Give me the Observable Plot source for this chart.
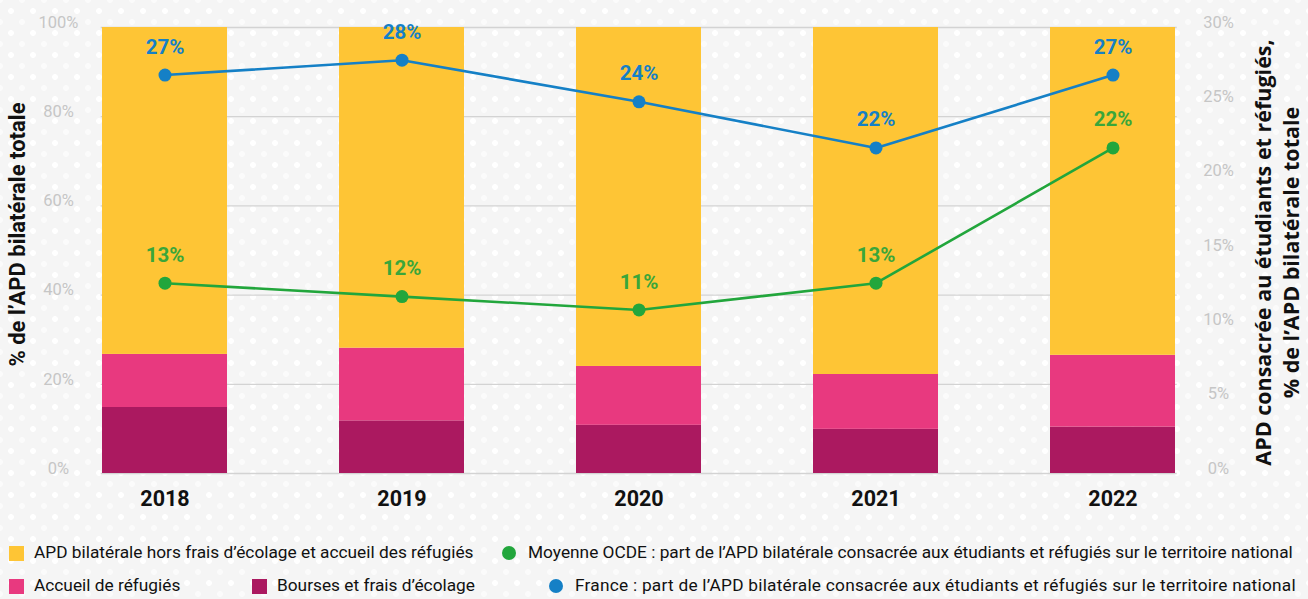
<!DOCTYPE html>
<html>
<head>
<meta charset="utf-8">
<script src="https://cdn.jsdelivr.net/npm/d3@7"></script>
<script src="https://cdn.jsdelivr.net/npm/@observablehq/plot@0.6"></script>
<style>
  html, body { margin: 0; padding: 0; }
  body {
    width: 1308px; height: 599px; overflow: hidden;
    background-color: #f5f5f5;
    background-image:
      radial-gradient(circle, #ffffff 2.6px, transparent 3.2px),
      radial-gradient(circle, #fbfbfb 2.6px, transparent 3.2px);
    background-size: 22px 22px, 22px 22px;
    background-position: 0 0, 11px 11px;
    font-family: Roboto, sans-serif;
  }
  #wrap { position: relative; width: 1308px; height: 599px; }
  .lg { position: absolute; font-size: 17.3px; color: #111; white-space: nowrap; line-height: 1; }
  .sq { position: absolute; width: 15px; height: 15px; }
  .ci { position: absolute; width: 14px; height: 14px; border-radius: 50%; }
  g[aria-label="left-title"] text { letter-spacing: 1.3px; }
</style>
</head>
<body>
<div id="wrap"></div>
<script>
const years = ["2018", "2019", "2020", "2021", "2022"];
// % de l'APD bilatérale totale (stacked bars)
const bourses = [14.8, 11.8, 10.8, 9.9, 10.4];
const accueil = [11.9, 16.3, 13.2, 12.3, 16.1];
const hors = [73.3, 71.9, 76.0, 77.8, 73.5];
// right axis (0–30 %)
const france = [26.8, 27.8, 25.0, 21.9, 26.8];
const franceLabels = ["27%", "28%", "24%", "22%", "27%"];
const ocde = [12.8, 11.9, 11.0, 12.8, 21.9];
const ocdeLabels = ["13%", "12%", "11%", "13%", "22%"];
const leftTicks = [0, 20, 40, 60, 80, 100];
const rightTicks = [0, 5, 10, 15, 20, 25, 30];

const seriesNames = [
  "Bourses et frais d’écolage",
  "Accueil de réfugiés",
  "APD bilatérale hors frais d’écolage et accueil des réfugiés"
];
const colors = ["#ab1960", "#e8397f", "#fec535"];
const green = "#22a63c", blue = "#1580c6";

const barData = [];
years.forEach((y, i) => {
  barData.push({year: y, series: seriesNames[0], value: bourses[i]});
  barData.push({year: y, series: seriesNames[1], value: accueil[i]});
  barData.push({year: y, series: seriesNames[2], value: hors[i]});
});
const R = 100 / 30; // right axis → left axis units
const franceData = years.map((y, i) => ({year: y, v: france[i] * R, label: franceLabels[i]}));
const ocdeData = years.map((y, i) => ({year: y, v: ocde[i] * R, label: ocdeLabels[i]}));

const inset = 20.7;
const chart = Plot.plot({
  width: 1308,
  height: 530,
  marginLeft: 80,
  marginRight: 110.6,
  marginTop: 27,
  marginBottom: 57,
  style: {background: "transparent", fontFamily: "Roboto, sans-serif", overflow: "visible"},
  x: {type: "band", domain: years, paddingInner: 0.473, paddingOuter: 0.087, axis: null},
  y: {domain: [0, 100], axis: null},
  color: {domain: seriesNames, range: colors},
  marks: [
    Plot.ruleY(leftTicks, {stroke: "#d3d3d3", strokeWidth: 1.3, insetLeft: inset, insetRight: inset}),
    Plot.barY(barData, {x: "year", y: "value", fill: "series", order: seriesNames}),
    // left axis labels
    Plot.text(leftTicks, {y: d => d, text: d => d + "%", frameAnchor: "left", dx: -22, dy: -5, textAnchor: "middle", fill: "#c6c6c6", fontSize: 16.5}),
    // right axis labels
    Plot.text(rightTicks, {y: d => d * R, text: d => d + "%", frameAnchor: "right", dx: 20.6, dy: -5, textAnchor: "middle", fill: "#c6c6c6", fontSize: 16.5}),
    // year labels
    Plot.text(years, {x: d => d, text: d => d, frameAnchor: "bottom", dy: 32, fill: "#111", fontSize: 21.5, fontWeight: "bold"}),
    // lines
    Plot.line(ocdeData, {x: "year", y: "v", stroke: green, strokeWidth: 2.6}),
    Plot.line(franceData, {x: "year", y: "v", stroke: blue, strokeWidth: 2.6}),
    Plot.dot(ocdeData, {x: "year", y: "v", r: 6.5, fill: green}),
    Plot.dot(franceData, {x: "year", y: "v", r: 6.5, fill: blue}),
    Plot.text(ocdeData, {x: "year", y: "v", text: "label", dy: -28, fill: "#3aa63a", fontSize: 20.5, fontWeight: "bold"}),
    Plot.text(franceData, {x: "year", y: "v", text: "label", dy: -28, fill: blue, fontSize: 20.5, fontWeight: "bold"}),
    // axis titles
    Plot.text(["% de l’APD bilatérale totale"], {ariaLabel: "left-title", frameAnchor: "left", textAnchor: "middle", dx: -63, dy: -16, rotate: -90, fill: "#111", fontSize: 22, fontWeight: "bold"}),
    Plot.text(["APD consacrée au étudiants et réfugiés,\n% de l’APD bilatérale totale"], {frameAnchor: "right", textAnchor: "middle", dx: 78.6, dy: 2, rotate: -90, lineHeight: 1.3, fill: "#111", fontSize: 21.5, fontWeight: "bold", fontFamily: "Open Sans, sans-serif"})
  ]
});
const wrap = document.getElementById("wrap");
wrap.appendChild(chart);

// legend
const legendItems = [
  {kind: "sq", color: colors[2], text: seriesNames[2], x: 9, y: 553},
  {kind: "ci", color: green, text: "Moyenne OCDE : part de l’APD bilatérale consacrée aux étudiants et réfugiés sur le territoire national", x: 502, y: 553, tx: 528},
  {kind: "sq", color: colors[1], text: seriesNames[1], x: 9, y: 586},
  {kind: "sq", color: colors[0], text: seriesNames[0], x: 252, y: 586},
  {kind: "ci", color: blue, text: "France : part de l’APD bilatérale consacrée aux étudiants et réfugiés sur le territoire national", x: 549, y: 586, tx: 575, ls: 0.24}
];
legendItems.forEach(it => {
  const m = document.createElement("div");
  m.className = it.kind;
  m.style.background = it.color;
  const s = it.kind === "sq" ? 15 : 14;
  m.style.left = it.x + "px";
  m.style.top = (it.y - s / 2) + "px";
  wrap.appendChild(m);
  const t = document.createElement("div");
  t.className = "lg";
  t.textContent = it.text;
  if (it.ls) t.style.letterSpacing = it.ls + "px";
  t.style.left = (it.tx !== undefined ? it.tx : it.x + 25) + "px";
  t.style.top = (it.y - 9) + "px";
  wrap.appendChild(t);
});
</script>
</body>
</html>
